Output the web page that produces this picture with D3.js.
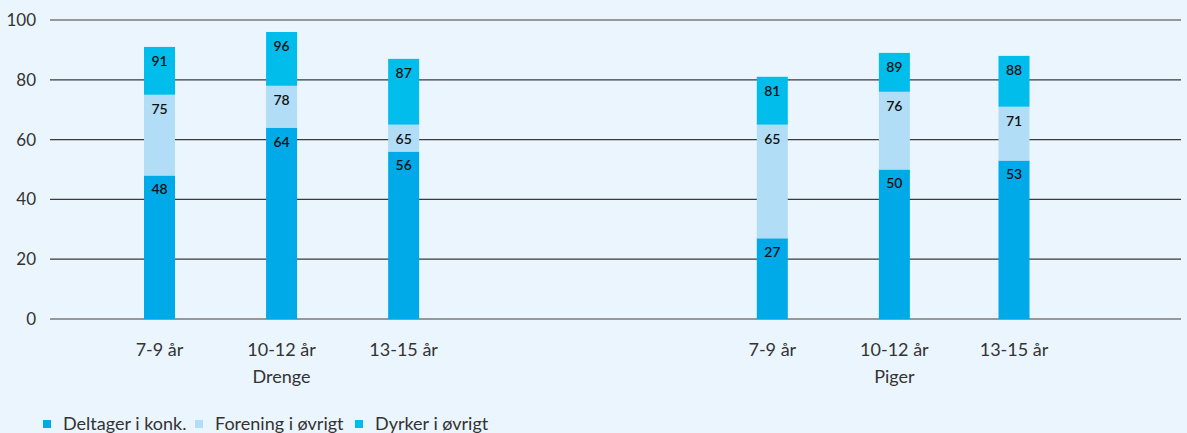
<!DOCTYPE html>
<html>
<head>
<meta charset="utf-8">
<script src="https://cdn.jsdelivr.net/npm/d3@7"></script>
<style>
  body { margin: 0; background: #ebf5fe; }
  text { font-family: Lato, "Open Sans", sans-serif; }
</style>
</head>
<body>
<script>
// age groups, drawn twice (Drenge / Piger)
var ages = ["7-9 år", "10-12 år", "13-15 år"];
var groups = ["Drenge", "Piger"];
var slots = [0, 1, 2, 5.02, 6.02, 7];   // x slot of each bar, gap between groups

// cumulative values (label = top of each segment)
var konk     = [48, 64, 56, 27, 50, 53];
var forening = [75, 78, 65, 65, 76, 71];
var dyrker   = [91, 96, 87, 81, 89, 88];

var yTicks = [0, 20, 40, 60, 80, 100];
var legendNames = ["Deltager i konk.", "Forening i øvrigt", "Dyrker i øvrigt"];
var colors = ["#00a9e8", "#b2ddf6", "#00bdec"];

function draw(){
    var W = 1187, H = 433;
    var svg = d3.select("body").append("svg")
        .attr("width", W).attr("height", H);

    var y = d3.scaleLinear().domain([0, 100]).range([319, 20]);
    var x = d3.scaleLinear().domain([0, 7]).range([159.5, 1014]);
    var barW = 31;

    // gridlines
    svg.selectAll(".grid")
        .data(yTicks)
        .enter().append("line")
        .attr("x1", 50).attr("x2", 1181)
        .attr("y1", function(d){ return y(d); })
        .attr("y2", function(d){ return y(d); })
        .attr("stroke", function(d){ return (d == 0 || d == 100) ? "#7a7a7a" : "#3a3a3a"; })
        .attr("stroke-width", 1.3);

    // y labels
    svg.selectAll(".ylab")
        .data(yTicks)
        .enter().append("text")
        .attr("x", 36)
        .attr("y", function(d){ return y(d); })
        .attr("dy", "0.35em")
        .attr("text-anchor", "end")
        .attr("font-size", 17)
        .attr("fill", "#333")
        .text(function(d){ return d; });

    var series = [konk, forening, dyrker];
    // stacked segments, bottom up
    series.forEach(function(vals, s){
        var prev = s == 0 ? null : series[s - 1];
        svg.selectAll(".seg" + s)
            .data(vals)
            .enter().append("rect")
            .attr("x", function(d, i){ return x(slots[i]) - barW / 2; })
            .attr("y", function(d){ return y(d); })
            .attr("width", barW)
            .attr("height", function(d, i){
                var base = prev ? prev[i] : 0;
                return y(base) - y(d);
            })
            .attr("fill", colors[s]);

        svg.selectAll(".lab" + s)
            .data(vals)
            .enter().append("text")
            .attr("x", function(d, i){ return x(slots[i]); })
            .attr("y", function(d){ return y(d) + 14; })
            .attr("dy", "0.35em")
            .attr("text-anchor", "middle")
            .attr("font-size", 14)
            .attr("font-weight", 600)
            .attr("fill", "#111")
            .text(function(d){ return d; });
    });

    // category labels
    svg.selectAll(".xlab")
        .data(slots)
        .enter().append("text")
        .attr("x", function(d){ return x(d); })
        .attr("y", 350)
        .attr("dy", "0.35em")
        .attr("text-anchor", "middle")
        .attr("font-size", 18)
        .attr("fill", "#333")
        .text(function(d, i){ return ages[i % 3]; });

    svg.selectAll(".glab")
        .data(groups)
        .enter().append("text")
        .attr("x", function(d, i){ return x(slots[i * 3 + 1]); })
        .attr("y", 377)
        .attr("dy", "0.35em")
        .attr("text-anchor", "middle")
        .attr("font-size", 18)
        .attr("fill", "#333")
        .text(function(d){ return d; });

    // legend
    var legX = [43, 195, 355];
    var leg = svg.selectAll(".leg")
        .data(legendNames)
        .enter().append("g")
        .attr("transform", function(d, i){ return "translate(" + legX[i] + ",0)"; });
    leg.append("rect")
        .attr("x", 0).attr("y", 420)
        .attr("width", 8).attr("height", 8)
        .attr("fill", function(d, i){ return colors[i]; });
    leg.append("text")
        .attr("x", 20).attr("y", 430)
        .attr("font-size", 18)
        .attr("fill", "#333")
        .text(function(d){ return d; });
}

window.onload = draw;
</script>
</body>
</html>
